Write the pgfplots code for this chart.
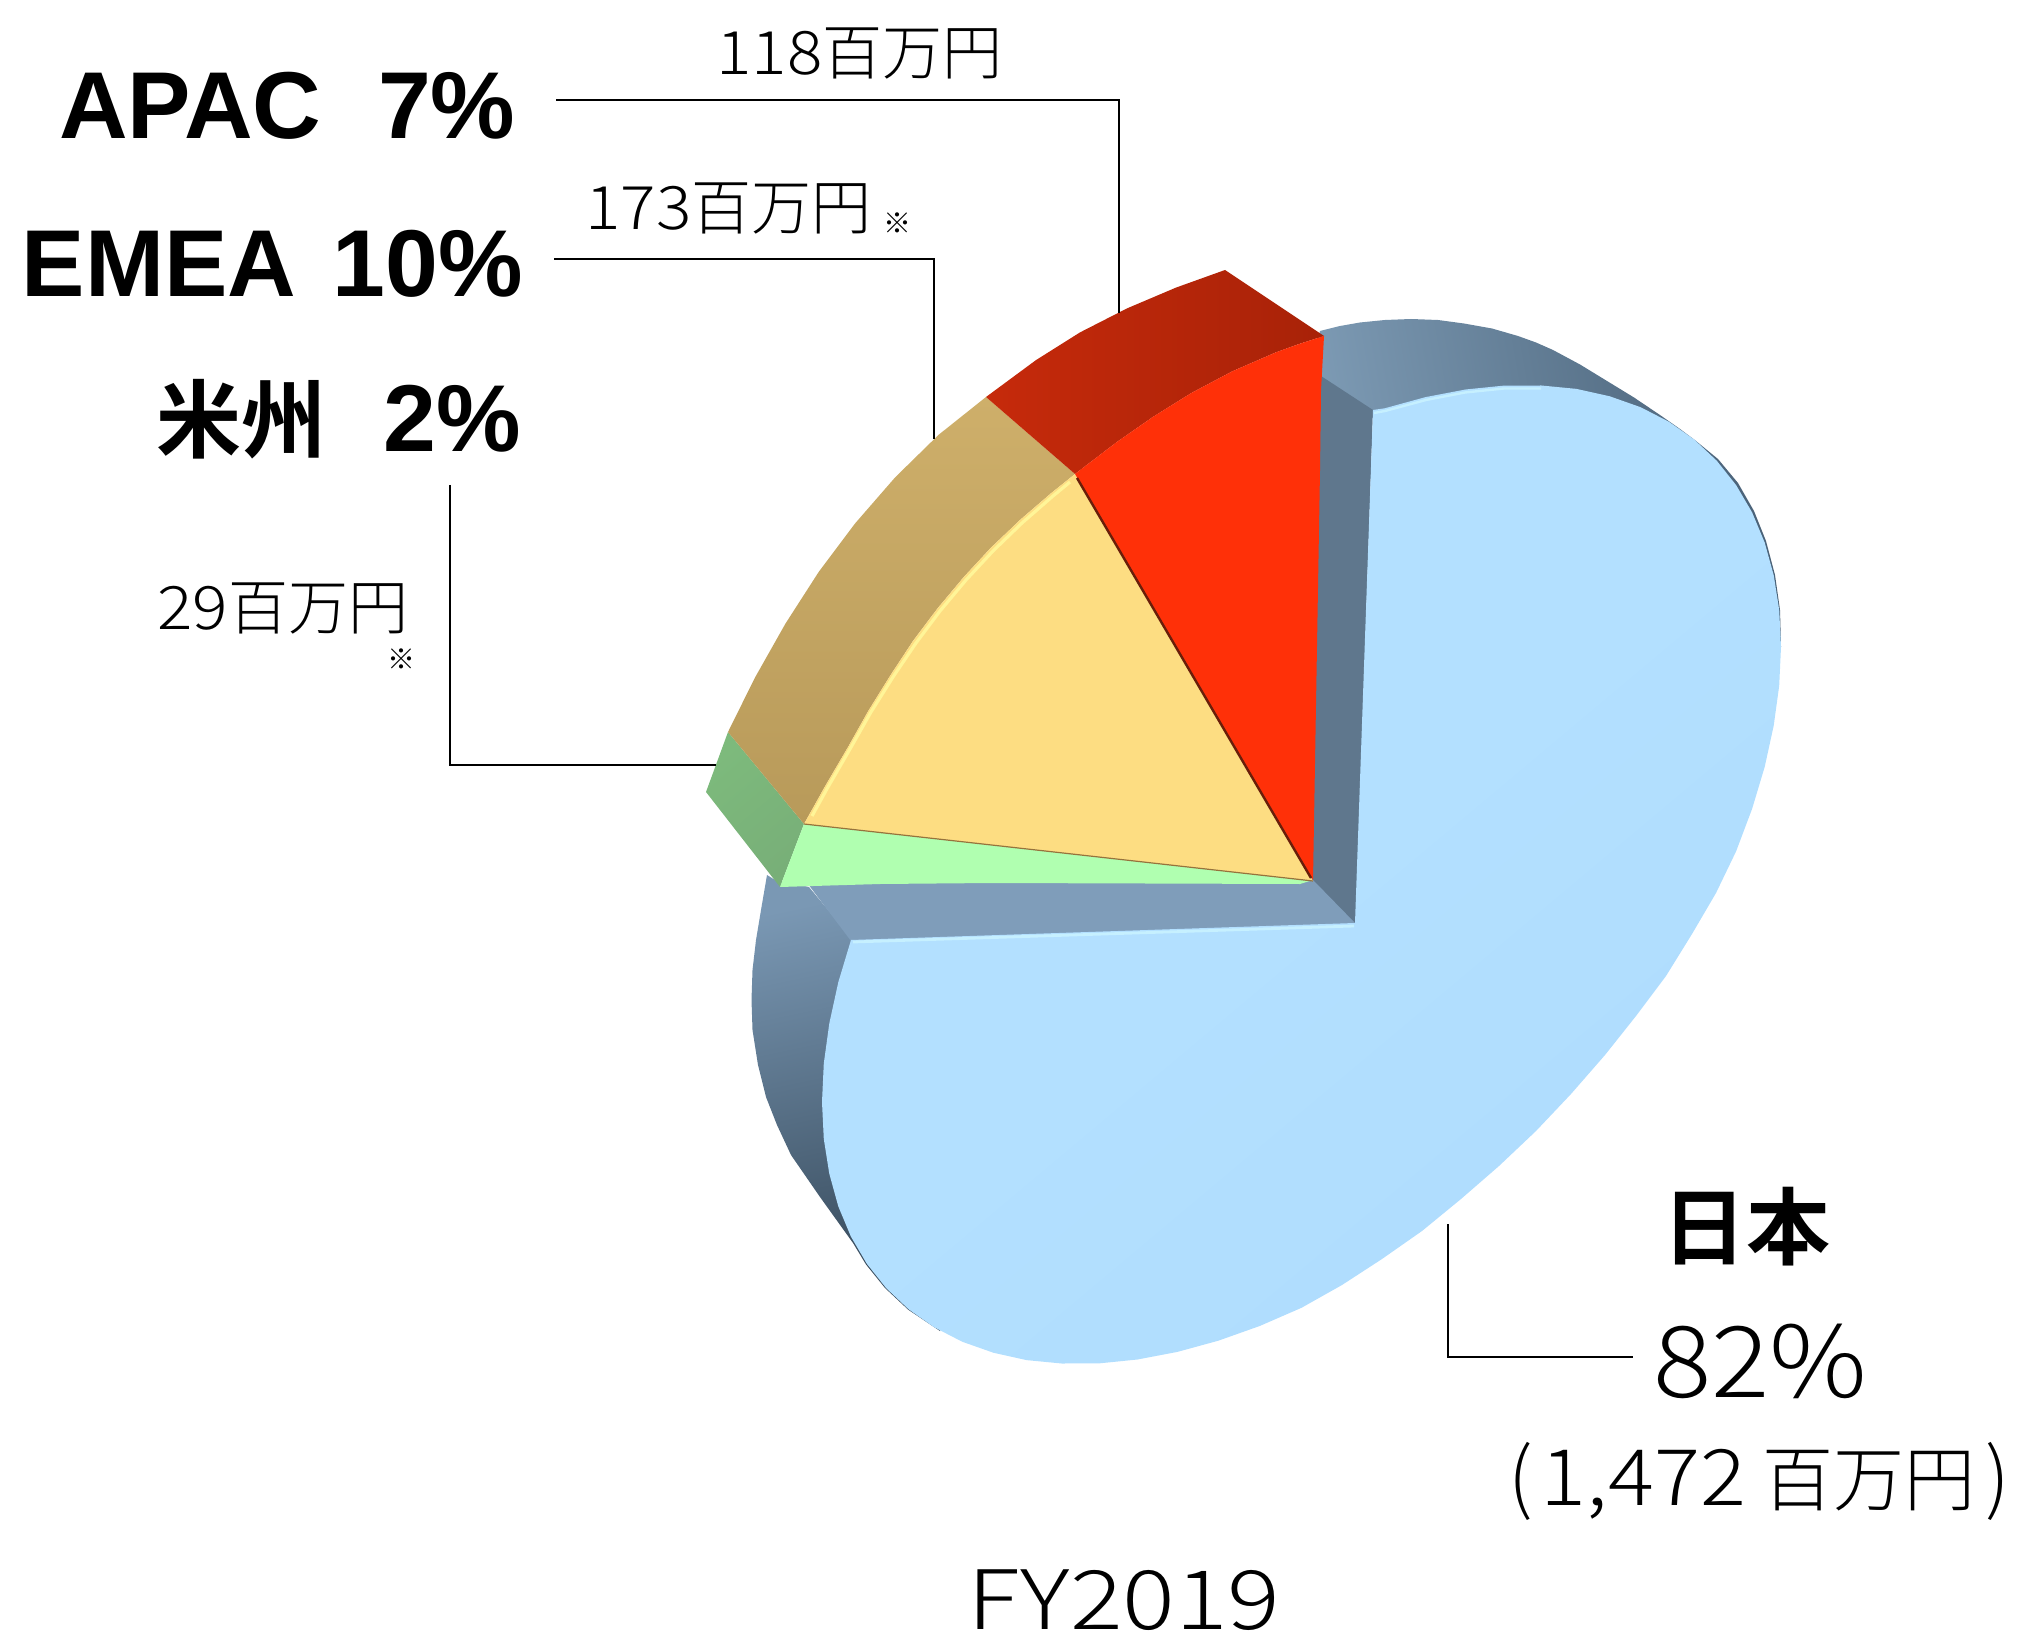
\documentclass[border=0pt]{standalone}
\usepackage{fontspec}
\usepackage{pgfplots}
\pgfplotsset{compat=1.18}
\setmainfont{Noto Sans CJK JP}
\newfontfamily\jb{Noto Sans CJK JP Bold}
\newfontfamily\lb{Liberation Sans Bold}
\newfontfamily\jl{Noto Sans CJK JP Light}
\newfontfamily\jw[FakeStretch=1.1]{Noto Sans CJK JP Light}
\newfontfamily\jx[FakeStretch=1.2]{Noto Sans CJK JP Light}
\definecolor{cblue}{HTML}{B3E0FF}
\definecolor{cblue2}{HTML}{AFDCFD}
\definecolor{chi}{HTML}{C6F0FF}
\definecolor{cwallR}{HTML}{5F778D}
\definecolor{cwallB}{HTML}{7F9DBA}
\definecolor{cred}{HTML}{FF3008}
\definecolor{cyel}{HTML}{FDDD82}
\definecolor{cyelhi}{HTML}{FFF598}
\definecolor{cgreen}{HTML}{B0FFB0}
\pgfplotsset{face/.style={sharp plot,draw=none,no markers,forget plot},
 lead/.style={sharp plot,black,line width=1.1pt,no markers,forget plot},
 hi/.style={sharp plot,no markers,forget plot,line join=round}}
\tikzset{lab/.style={overlay,inner sep=0pt,anchor=base west,text depth=0pt},rlab/.style={overlay,inner sep=0pt,anchor=base east,text depth=0pt}}
\begin{document}
\begin{tikzpicture}
\begin{axis}[width=1012pt,height=818pt,scale only axis,xmin=0,xmax=2024,ymin=0,ymax=1636,y dir=reverse,
 axis lines=none,clip=false,enlargelimits=false]
% page extent
\addplot[draw=none,no markers,forget plot,sharp plot] coordinates {(0,0)(2024,1636)};
% back rim
\addplot[face,shade,left color={rgb,255:red,128;green,158;blue,184},right color={rgb,255:red,72;green,96;blue,118},shading angle=100]
 coordinates {(1300,400)(1320,331)(1340,326)(1360,322.5)(1385,320)(1411,319)(1438,320)(1464,323.5)(1492,328.5)(1518,336)(1536,342.5)(1553,350)(1580,364.5)(1607,381)(1634,397.5)(1660,415)(1680,429)(1696,441)(1718,459)(1738,483)(1754,511)(1766,541)(1775,575)(1780,610)(1781,647)(1600,640)(1373,412)(1360,500)};
% front-left rim
\addplot[face,shade,top color={rgb,255:red,122;green,152;blue,180},bottom color={rgb,255:red,48;green,66;blue,82},shading angle=12]
 coordinates {(775,880)(767,875)(761,910)(756,940)(752.5,970)(751.5,1000)(752.5,1030)(758,1065)(766,1097)(777,1125)(791,1155)(820,1197)(853,1243)(866,1264.5)(885,1288)(908,1309.5)(940,1331)(1000,1000)(852,939)(809,887)};
% walls
\addplot[face,fill=cwallR] coordinates {(1321,376)(1373,410)(1356,925)(1310,880)};
\addplot[face,fill=cwallB] coordinates {(1313,880)(1356,924)(851,941)(808,884)};
% blue face
\addplot[face,shade,top color=cblue,bottom color=cblue2,middle color=cblue,shading angle=40]
 coordinates {(1373,410)(1384.7,408.3)(1425.6,397.1)(1465.5,389.5)(1504.1,385.6)(1541.3,385.5)(1576.5,388.9)(1609.7,396.3)(1640.6,407.2)(1668.8,421.7)(1694.3,439.6)(1716.7,460.7)(1736.1,485.1)(1752.1,512.4)(1764.7,542.6)(1773.7,575.2)(1779.2,610)(1781,646.9)(1779.2,685.6)(1773.7,725.6)(1764.7,766.8)(1752.1,808.8)(1736.1,851.3)(1716,893)(1692,934)(1666,976)(1636,1016)(1605,1055)(1571,1094)(1536,1131)(1499,1166)(1461,1199)(1422,1231)(1382,1259)(1342,1285)(1301.5,1307.8)(1259.7,1326)(1218.3,1340.7)(1177.4,1351.9)(1137.5,1359.5)(1098.9,1363.4)(1061.7,1363.5)(1026.5,1360.1)(993.3,1352.7)(962.4,1341.8)(934.2,1327.3)(908.7,1309.4)(886.3,1288.3)(866.9,1263.9)(850.9,1236.6)(838.3,1206.4)(829.3,1173.8)(823.8,1139)(822,1102.1)(823.8,1063.4)(829.3,1023.4)(838.3,982.2)(851,940)(1355,923)};
% blue edge highlights
\addplot[hi,chi,line width=1.2pt] coordinates {(1374,413)(1385,411)(1426,400)(1465,392.5)(1504,388.5)(1541,388.5)};
\addplot[hi,chi,line width=1.4pt] coordinates {(853,942)(1354,926)};
% green side and face
\addplot[face,shade,left color={rgb,255:red,125;green,186;blue,124},right color={rgb,255:red,120;green,175;blue,120},shading angle=40] coordinates {(728,732)(706,792)(780,887)(804,824)};
\addplot[face,fill=cgreen] coordinates {(804,824)(1313,880)(1300,884)(992,883)(880,884)(780,887)};
% tan side
\addplot[face,shade,top color={rgb,255:red,206;green,175;blue,106},bottom color={rgb,255:red,184;green,154;blue,90}] coordinates {(986,397)(938.6,434.8)(895.1,477.4)(855.2,523.3)(818.6,572.1)(785.4,623.7)(754.8,677.9)(728,732)(804,824)(825.1,786.2)(847.7,747.6)(868.6,710.4)(890.6,675)(913.1,640.8)(937.6,608.3)(963.6,577.2)(991,547.6)(1020.4,519.6)(1051.3,493)(1075,474)};
% red side
\addplot[face,shade,left color={rgb,255:red,198;green,42;blue,11},right color={rgb,255:red,168;green,34;blue,8}] coordinates {(986,397)(1036,360.1)(1080,332.4)(1127,308.4)(1176,287.6)(1225,270)(1324,336)(1299,344)(1276,352.3)(1232.3,371.3)(1191.3,393)(1153.1,416.8)(1117.4,441.6)(1083.7,467.3)(1075,474)};
% yellow face
\addplot[face,fill=cyel] coordinates {(1075,474)(1051.3,493)(1020.4,519.6)(991,547.6)(963.6,577.2)(937.6,608.3)(913.1,640.8)(890.6,675)(868.6,710.4)(847.7,747.6)(825.1,786.2)(804,824)(1313,881)};
\addplot[hi,cyelhi,line width=1.6pt] coordinates {(1070,482)(1053,496)(1022,523)(993,551)(966,580)(940,611)(916,643)(893,677)(871,712)(850,749)(828,787)(812,816)};
\addplot[hi,color={rgb,255:red,150;green,115;blue,60},line width=0.6pt] coordinates {(804,824)(1313,881)};
% red face
\addplot[face,fill=cred] coordinates {(1075,474)(1083.7,467.3)(1117.4,441.6)(1153.1,416.8)(1191.3,393)(1232.3,371.3)(1276,352.3)(1299,344)(1324,336)(1321,390)(1320,470)(1313,880)};
\addplot[hi,color={rgb,255:red,105;green,30;blue,10},line width=1.2pt] coordinates {(1077,478)(1311,878)};
% leader lines
\addplot[lead] coordinates {(556,100)(1119,100)(1119,313)};
\addplot[lead] coordinates {(554,259)(934,259)(934,439)};
\addplot[lead] coordinates {(450,485)(450,765)(716,765)};
\addplot[lead] coordinates {(1448,1224)(1448,1357)(1633,1357)};
% texts
\node[rlab,font=\lb\fontsize{47.5}{48}\selectfont] at (axis cs:516,139) {APAC\hspace{0.6em}7\%};
\node[rlab,font=\lb\fontsize{47.5}{48}\selectfont] at (axis cs:523,297) {EMEA\hspace{0.38em}10\%};
\node[rlab,font=\lb\fontsize{47.5}{48}\selectfont] at (axis cs:521,452) {{\jb\fontsize{42.5}{43}\selectfont 米州}\hspace{0.6em}2\%};
\node[lab,font=\jl\fontsize{30}{30}\selectfont] at (axis cs:716,75) {{\jw 118}百万円};
\node[lab,font=\jl\fontsize{30}{30}\selectfont] at (axis cs:585,230) {{\jw 173}百万円};
\node[overlay,inner sep=0pt,anchor=base,font=\jl\fontsize{14}{14}\selectfont] at (axis cs:897,234) {※};
\node[lab,font=\jl\fontsize{30}{30}\selectfont] at (axis cs:157,630) {{\jw 29}百万円};
\node[overlay,inner sep=0pt,anchor=base,font=\jl\fontsize{14}{14}\selectfont] at (axis cs:401,669) {※};
\node[lab,font=\jb\fontsize{42}{42}\selectfont] at (axis cs:1662,1258) {日本};
\node[lab,font=\jw\fontsize{49.5}{50}\selectfont] at (axis cs:1653,1397) {82\%};
\node[lab,font=\jl\fontsize{39}{39}\selectfont] at (axis cs:1508,1505) {(\hspace{4pt}{\jw 1,472}\hspace{8pt}{\fontsize{35.5}{36}\selectfont 百万円}\hspace{5pt})};
\node[lab,font=\jx\fontsize{41}{41}\selectfont] at (axis cs:967,1629) {FY2019};
\end{axis}
\end{tikzpicture}
\end{document}
